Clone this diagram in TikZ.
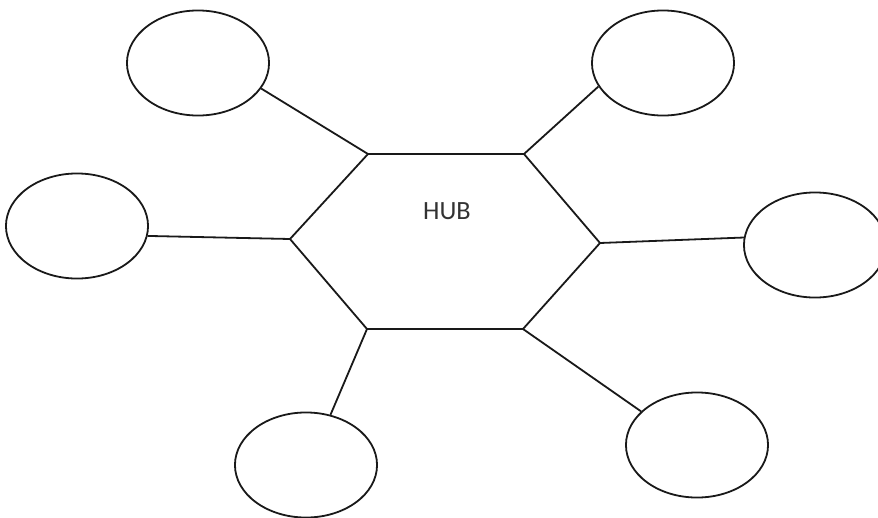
\documentclass[tikz,border=0pt]{standalone}
\usepackage{fontspec}
\setsansfont{Carlito}
\usetikzlibrary{shapes.geometric}

\begin{document}
\begin{tikzpicture}[x=0.01in,y=-0.01in,
  spoke/.style={ellipse, draw=black!90, line width=1.3pt, minimum width=1.42in, minimum height=1.05in, inner sep=0pt},
  link/.style={black!90, line width=1.3pt}]
\useasboundingbox (0,0) rectangle (878,517);
% hub
\coordinate (h1) at (368,154);
\coordinate (h2) at (524,154);
\coordinate (h3) at (600,243);
\coordinate (h4) at (523,329);
\coordinate (h5) at (367,329);
\coordinate (h6) at (290,239);
\draw[link, line join=round] (h1) -- (h2) -- (h3) -- (h4) -- (h5) -- (h6) -- cycle;
\node[font=\sffamily\fontsize{19}{19}\selectfont, text=black!80] (hub) at (447,211) {HUB};
% ellipses round the hub
\node[spoke] (tl) at (198,63) {};
\node[spoke] (tr) at (663,63) {};
\node[spoke] (lf) at (77,226) {};
\node[spoke] (rt) at (815,245) {};
\node[spoke] (bl) at (306,465) {};
\node[spoke] (br) at (697,445) {};
% spokes
\draw[link] (tl.-22) -- (h1);
\draw[link] (tr.-160) -- (h2);
\draw[link] (lf.-8) -- (h6);
\draw[link] (rt.174) -- (h3);
\draw[link] (bl.64) -- (h5);
\draw[link] (br.149) -- (h4);
\end{tikzpicture}
\end{document}
